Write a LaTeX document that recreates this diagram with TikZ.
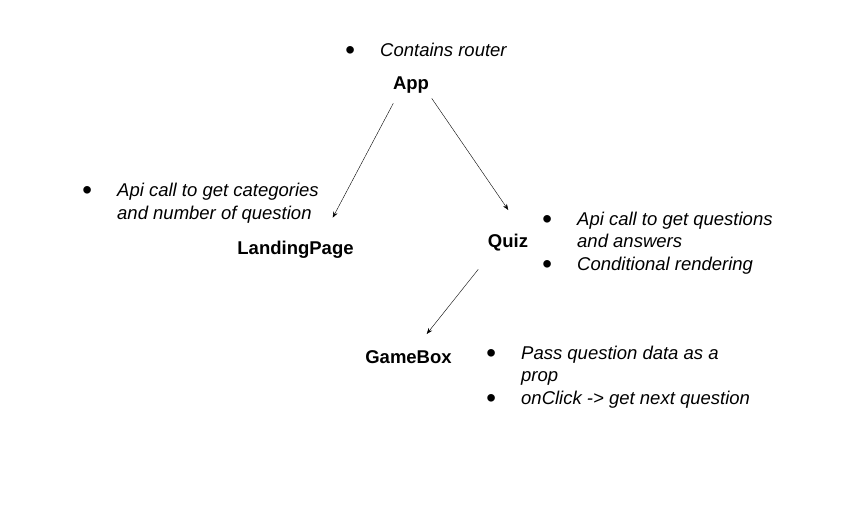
\documentclass[tikz,border=0pt]{standalone}
\usepackage{fontspec}
\setmainfont{Liberation Sans}
\usepackage{tikz}
\usetikzlibrary{arrows.meta}

\newcommand{\bulitem}{\makebox[35pt][l]{\raisebox{-3.2pt}{\scalebox{1.5}{•}}}}
\newcommand{\bulcont}{\hspace*{35pt}}

\begin{document}
\begin{tikzpicture}[x=1pt,y=-1pt,
    comp/.style={font=\fontsize{18.5}{22.5}\selectfont\bfseries, inner sep=0pt, anchor=base},
    notes/.style={font=\fontsize{18.5}{22.5}\selectfont\itshape, inner sep=0pt, anchor=base west, align=left},
    flow/.style={-{Stealth[length=6pt,width=4.5pt]}, thin}]
    \useasboundingbox (0,0) rectangle (851,506);

    % Components
    \node[comp] (app) at (411,89) {App};
    \node[comp] (landing) at (295.5,254) {LandingPage};
    \node[comp] (quiz) at (508,247) {Quiz};
    \node[comp] (gamebox) at (408.5,363) {GameBox};

    % Notes beside each component (placed by their last line)
    \node[notes] (appnotes) at (345,56) {\bulitem Contains router};
    \node[notes] (landingnotes) at (82,219) {\bulitem Api call to get categories\\
        \bulcont and number of question};
    \node[notes] (quiznotes) at (542,270) {\bulitem Api call to get questions\\
        \bulcont and answers\\
        \bulitem Conditional rendering};
    \node[notes] (gameboxnotes) at (486,404) {\bulitem Pass question data as a\\
        \bulcont prop\\
        \bulitem onClick -> get next question};

    % Arrow ends
    \coordinate (app-l) at (393.3,103.3);
    \coordinate (app-r) at (431.7,98.3);
    \coordinate (landing-t) at (332.7,217.7);
    \coordinate (quiz-t) at (508.3,210);
    \coordinate (quiz-b) at (478.3,269.3);
    \coordinate (gamebox-t) at (426.7,334);

    % Connectors
    \draw[flow] (app-l) -- (landing-t);
    \draw[flow] (app-r) -- (quiz-t);
    \draw[flow] (quiz-b) -- (gamebox-t);
\end{tikzpicture}
\end{document}
